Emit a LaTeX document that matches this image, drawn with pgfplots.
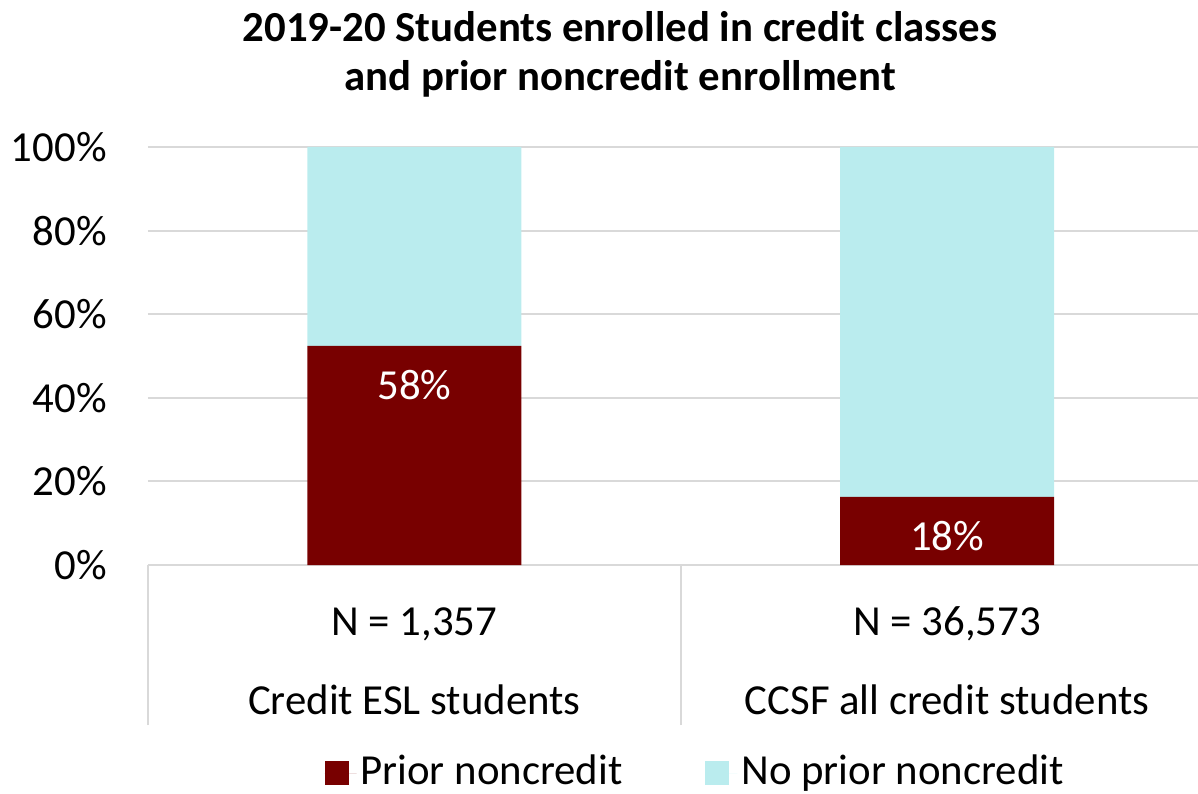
\documentclass[border=0pt]{standalone}
\usepackage{fontspec}
\setmainfont{Carlito}
\usepackage{pgfplots}
\pgfplotsset{compat=1.18}
\definecolor{cred}{HTML}{780000}
\definecolor{ccyan}{HTML}{BAECEE}
\definecolor{cgrid}{HTML}{D9D9D9}
\pgfplotsset{sqlegend/.style={legend image code/.code={\fill[##1] (0pt,-6pt) rectangle (12pt,6pt); \path (0pt,0pt) -- (16pt,0pt);}}}
\begin{document}
\fontsize{21.4}{26}\selectfont
\begin{tikzpicture}
\useasboundingbox (0,0) rectangle (599pt,396.5pt);
\begin{axis}[
  at={(74pt,114pt)}, anchor=south west,
  scale only axis, width=525pt, height=209pt,
  ybar stacked, bar width=107pt,
  xmin=-0.5, xmax=1.471, ymin=0, ymax=100,
  axis x line*=bottom, axis y line*=left,
  x axis line style={draw=cgrid, line width=1pt, -},
  y axis line style={draw=none},
  ymajorgrids, grid style={draw=cgrid, line width=1pt},
  major tick length=0pt,
  tick style={draw=cgrid, line width=1pt},
  ytick={0,20,40,60,80,100},
  yticklabels={0\%,20\%,40\%,60\%,80\%,100\%},
  yticklabel style={anchor=east, inner sep=0pt, xshift=-20.5pt},
  xtick={0,1},
  xticklabels={{N = 1,357\\[13.5pt]Credit ESL students},{N = 36,573\\[13.5pt]CCSF all credit students}},
  xticklabel style={anchor=base, align=center, yshift=-74.5pt, inner sep=0pt},
  extra x ticks={-0.5,0.5},
  extra x tick labels={},
  extra x tick style={major tick length=80pt, tick align=outside, grid=none},
  legend style={at={(0.522,-0.498)}, anchor=center, draw=none, fill=none,
    legend columns=2, /tikz/every even column/.append style={column sep=39.5pt},
    legend cell align=left},
]
\addplot[fill=cred, draw=none, sqlegend,
  visualization depends on={rawy \as \myrawy},
  nodes near coords, point meta=explicit symbolic,
  every node near coord/.append style={anchor=center, yshift={\myrawy*1.045pt-19.5pt}, text=white}]
  coordinates {(0,52.4) [58\%] (1,16.3) [18\%]};
\addlegendentry{Prior noncredit}
\addplot[fill=ccyan, draw=none, sqlegend]
  coordinates {(0,47.6) (1,83.7)};
\addlegendentry{No prior noncredit}
\end{axis}
\node[anchor=base, font=\bfseries] at (310pt,375.5pt) {2019-20 Students enrolled in credit classes};
\node[anchor=base, font=\bfseries] at (310pt,351pt) {and prior noncredit enrollment};
\end{tikzpicture}
\end{document}
